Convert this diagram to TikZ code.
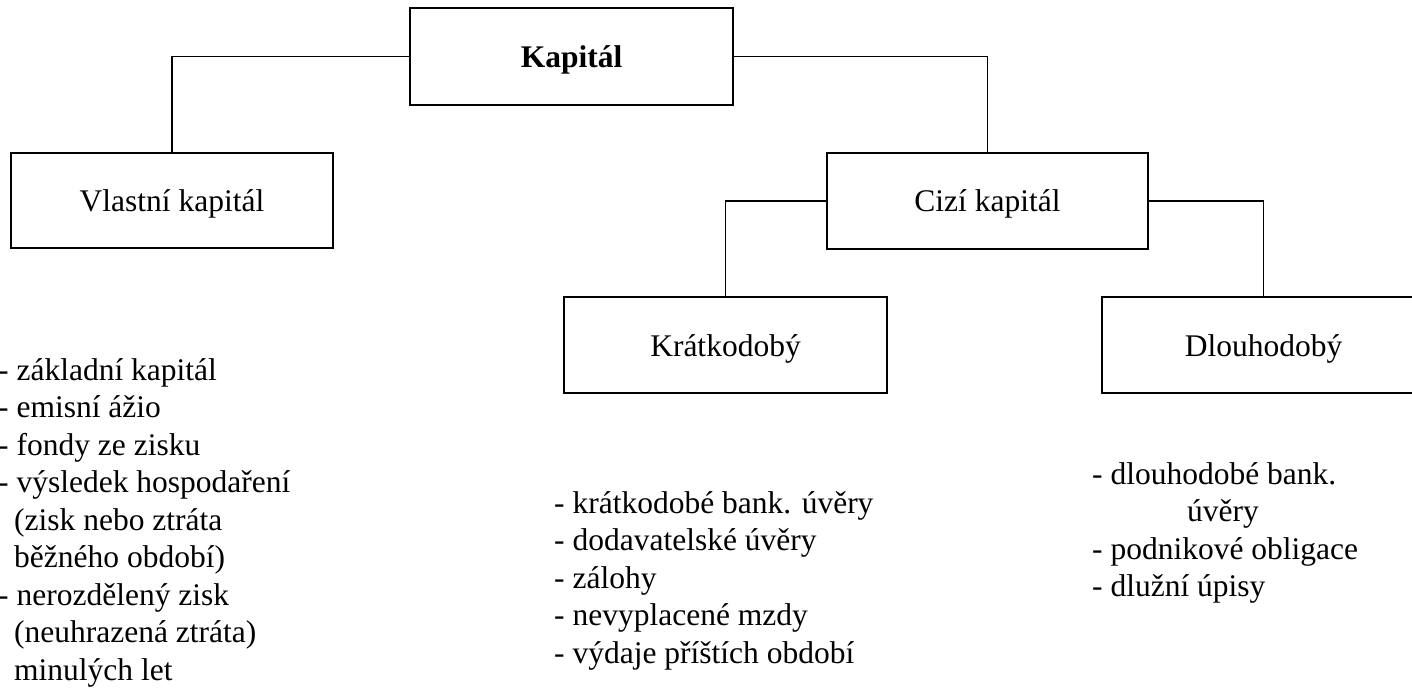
\documentclass[tikz,border=0pt]{standalone}
\usepackage{fontspec}
\setmainfont{Liberation Serif}
\begin{document}
\begin{tikzpicture}[x=1pt,y=-1pt,
  box/.style={draw, line width=1.8pt, rectangle, inner sep=0pt,
    text height=22pt, text depth=0pt, align=center},
  link/.style={draw, line width=1.5pt},
  listtext/.style={anchor=base west, inner sep=0pt, align=left}]
\path[use as bounding box] (0,0) rectangle (1412,692);
\clip (0,0) rectangle (1412,692);
\fontsize{31.5}{37.5}\selectfont
\node[box, minimum width=323pt, minimum height=97pt] (K) at (571.5,56.5) {\textbf{Kapitál}};
\node[box, minimum width=322pt, minimum height=95pt] (V) at (172,200.5) {Vlastní kapitál};
\node[box, minimum width=321pt, minimum height=96pt] (C) at (987.5,201) {Cizí kapitál};
\node[box, minimum width=323pt, minimum height=96pt] (Kr) at (725.5,345) {Krátkodobý};
\node[box, minimum width=323pt, minimum height=96pt] (D) at (1263.5,345) {Dlouhodobý};
\draw[link] (K.west) -| (V.north);
\draw[link] (K.east) -| (C.north);
\draw[link] (C.west) -| (Kr.north);
\draw[link] (C.east) -| (D.north);
\node[listtext] (L1) at (-2,380) {\begin{tabular}[t]{@{}l@{}}
- základní kapitál\\
- emisní ážio\\
- fondy ze zisku\\
- výsledek hospodaření\\
\hspace*{16pt}(zisk nebo ztráta\\
\hspace*{16pt}běžného období)\\
- nerozdělený zisk\\
\hspace*{16pt}(neuhrazená ztráta)\\
\hspace*{16pt}minulých let
\end{tabular}};
\node[listtext] (L2) at (554,513) {\begin{tabular}[t]{@{}l@{}}
- krátkodobé bank. úvěry\\
- dodavatelské úvěry\\
- zálohy\\
- nevyplacené mzdy\\
- výdaje příštích období
\end{tabular}};
\node[listtext] (L3) at (1092,484) {\begin{tabular}[t]{@{}l@{}}
- dlouhodobé bank.\\
\hspace*{95pt}úvěry\\
- podnikové obligace\\
- dlužní úpisy
\end{tabular}};
\end{tikzpicture}
\end{document}
